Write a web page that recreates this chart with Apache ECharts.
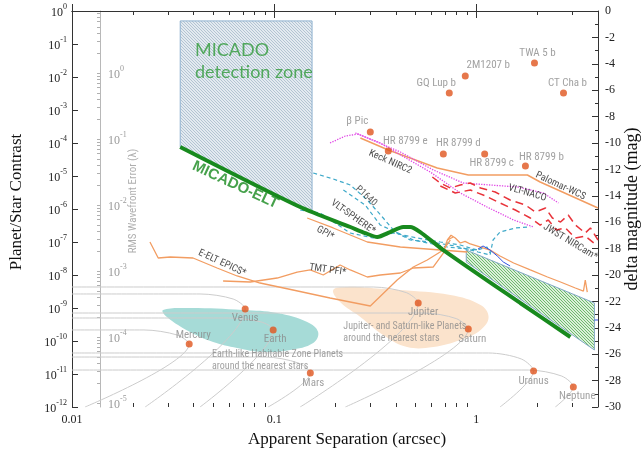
<!DOCTYPE html>
<html><head><meta charset="utf-8">
<script src="https://cdn.jsdelivr.net/npm/echarts@6/dist/echarts.min.js"></script>
<style>html,body{margin:0;padding:0;background:#fff}#c{width:643px;height:455px}</style>
</head><body><div id="c"></div>
<script>
// ---------------- data ----------------
const xTickLabels = [0.01, 0.1, 1];
const yTickLabels = [1e-12,1e-11,1e-10,1e-9,1e-8,1e-7,1e-6,1e-5,1e-4,1e-3,1e-2,1e-1,1];
const rmsTickLabels = [1e-5,1e-4,1e-3,1e-2,1e-1,1];
const magRange = [-30, 0];

const planetNames = ['TWA 5 b','2M1207 b','GQ Lup b','CT Cha b','β Pic','HR 8799 e','HR 8799 d','HR 8799 c','HR 8799 b','Mercury','Venus','Earth','Mars','Jupiter','Saturn','Uranus','Neptune'];
const planetSep = [1.94,0.882,0.735,2.70,0.299,0.367,0.687,1.10,1.75,0.038,0.0719,0.0989,0.151,0.516,0.913,1.92,3.02];
const planetContrast = [0.0266,0.0107,3.27e-3,3.27e-3,2.16e-4,5.72e-5,4.64e-5,4.64e-5,2.01e-5,8.11e-11,9.33e-10,2.16e-10,1.07e-11,1.42e-9,2.31e-10,1.23e-11,4.04e-12];

const orbitMercury = [[0.01,2.16e-10],[0.0227,2.16e-10],[0.0331,1.52e-10],[0.038,8.11e-11],[0.0116,1e-12]];
const orbitVenus   = [[0.01,2.66e-9],[0.043,2.66e-9],[0.0627,1.87e-9],[0.0719,9.33e-10],[0.023,1e-12]];
const orbitEarth   = [[0.01,4.98e-10],[0.0592,4.98e-10],[0.0862,3.77e-10],[0.0989,2.16e-10],[0.043,1e-12]];
const orbitMars    = [[0.01,3.27e-11],[0.0903,3.27e-11],[0.1315,2.16e-11],[0.151,1.07e-11],[0.0934,1e-12]];
const orbitJupiter = [[0.01,4.33e-9],[0.309,4.33e-9],[0.45,2.93e-9],[0.516,1.42e-9],[0.1345,1e-12]];
const orbitSaturn  = [[0.01,7.05e-10],[0.547,7.05e-10],[0.796,4.77e-10],[0.913,2.31e-10],[0.225,1e-12]];
const orbitUranus  = [[0.01,4.33e-11],[1.15,4.33e-11],[1.67,2.85e-11],[1.92,1.23e-11],[1.31,1e-12]];
const orbitNeptune = [[0.01,1.32e-11],[1.81,1.32e-11],[2.64,8.7e-12],[3.02,4.04e-12],[2.46,1e-12]];

const earthZone = [[0.0282,8.7e-10],[0.0384,1e-9],[0.0702,8.7e-10],[0.1035,7.05e-10],[0.1457,3.77e-10],[0.165,1.87e-10],[0.156,8.7e-11],[0.120,5.34e-11],[0.0882,4.64e-11],[0.0656,6.14e-11],[0.0499,9.33e-11],[0.0384,1.87e-10],[0.0295,5.34e-10]];
const jupiterZone = [[0.196,3.51e-9],[0.23,4.33e-9],[0.309,4.0e-9],[0.421,3.51e-9],[0.744,2.48e-9],[1.05,1.23e-9],[1.15,5.34e-10],[1.05,2.16e-10],[0.833,1.07e-10],[0.613,6.58e-11],[0.455,6.58e-11],[0.346,1.52e-10],[0.267,5.34e-10],[0.212,1.52e-9]];

const micadoZone = [[0.0343,0.5],[0.154,0.5],[0.154,8e-7],[0.0343,7.6e-5]];
const eltZone = [[0.892,5.7e-8],[3.84,1.42e-9],[3.84,5.34e-11],[0.892,2.48e-8]];

const micadoELT = [[0.0343,7.6e-5],[0.1345,1.15e-6],[0.238,2.85e-7],[0.282,1.87e-7],[0.324,1.42e-7],[0.375,2.0e-7],[0.435,2.85e-7],[0.471,2.85e-7],[0.528,2.0e-7],[0.687,5.7e-8],[1.65,1.42e-9],[2.92,1.32e-10]];

const palomarWCS = [[0.267,1.42e-4],[0.367,6.14e-5],[0.641,1.75e-5],[0.913,1.07e-5],[1.79,1.07e-5],[2.07,6.58e-6],[4.0,1.07e-6]];
const keckNIRC2 = [[0.189,1e-4],[0.225,1.63e-4],[0.26,1.87e-4],[0.306,1.23e-4],[0.421,5.34e-5],[0.613,1.52e-5],[0.862,6.14e-6],[1.17,5.34e-6],[1.60,4.64e-6],[2.15,3.05e-6],[2.55,1.52e-6]];
const vltNACO = [[0.252,2.01e-4],[0.335,1e-4],[0.406,4.98e-5],[0.592,1.32e-5],[0.833,3.05e-6],[1.13,1.15e-6],[1.53,4.64e-7],[1.92,2.85e-7]];
const jwstA = [[0.606,9.33e-6],[0.664,6.14e-6],[0.744,4.33e-6],[0.833,5.34e-6],[0.934,6.14e-6],[1.05,4.33e-6],[1.24,3.27e-6],[1.47,1.87e-6],[1.75,1.32e-6],[1.96,8.11e-7],[2.20,1.07e-6],[2.38,5.34e-7],[2.61,4.04e-7],[2.85,6.58e-7],[3.09,3.27e-7],[3.46,1.87e-7],[3.67,2.66e-7],[4.0,1.15e-7]];
const jwstB = [[0.664,4.98e-6],[0.787,3.05e-6],[0.934,3.77e-6],[1.11,2.48e-6],[1.31,1.52e-6],[1.56,9.33e-7],[1.85,5.34e-7],[2.07,3.27e-7],[2.27,4.64e-7],[2.49,2.31e-7],[2.76,2.66e-7],[3.09,1.32e-7],[3.46,1.52e-7],[3.97,7.57e-8]];
const p1640 = [[0.156,1.23e-5],[0.196,8.11e-6],[0.238,5.34e-6],[0.289,1.87e-6],[0.343,5.72e-7],[0.397,2.01e-7],[0.471,1.15e-7],[0.592,1e-7],[0.787,7.57e-8],[1.02,4.98e-8],[1.17,4.04e-8],[1.21,1.15e-7],[1.31,2.01e-7],[1.56,2.66e-7],[1.85,2.85e-7]];
const sphereA = [[0.1345,9.33e-7],[0.169,7.57e-7],[0.238,1.87e-7],[0.309,1.32e-7],[0.388,1.87e-7],[0.511,1.32e-7],[0.664,1e-7],[0.833,8.11e-8],[1.01,5.72e-8]];
const sphereB = [[0.22,3.77e-6],[0.282,1.32e-6],[0.335,3.27e-7],[0.488,1.15e-7],[0.719,7.05e-8],[1.01,5.72e-8],[1.13,7.05e-8],[1.17,4.64e-8]];
const gpi = [[0.1457,5.34e-7],[0.196,2.66e-7],[0.289,1e-7],[0.421,7.05e-8],[0.664,5.72e-8],[0.903,4.98e-8]];
const epics = [[0.0243,1e-7],[0.0267,3.27e-8],[0.0306,3.51e-8],[0.0397,3.27e-8],[0.0522,1.63e-8],[0.0656,9.33e-9],[0.0852,5.72e-9],[0.124,3.51e-9],[0.189,2.01e-9],[0.299,1.15e-9],[0.406,7.05e-9],[0.488,1.75e-8],[0.572,2.85e-8],[0.687,5.72e-8],[0.744,1.15e-7]];
const tmtPFI = [[0.0559,6.58e-9],[0.0761,6.14e-9],[0.1035,8.11e-9],[0.130,1.23e-8],[0.1508,1.42e-8],[0.175,1e-8],[0.212,2.01e-8],[0.238,1.42e-8],[0.289,8.7e-9],[0.335,1e-8],[0.421,1.15e-8],[0.488,1.63e-8],[0.613,1.75e-8],[0.687,4.64e-8],[0.719,1.15e-7],[0.769,1.42e-7]];
const eltNoisy = [[0.719,1.15e-7],[0.75,1.6e-7],[0.787,1.32e-7],[0.833,9.33e-8],[0.88,1.05e-7],[0.934,8.7e-8],[1.05,7.05e-8],[1.17,5.72e-8],[1.31,3.77e-8],[1.53,2.31e-8],[1.85,1.42e-8],[2.25,8.7e-9],[2.61,6.14e-9],[3.09,4.04e-9],[3.39,3.27e-9],[3.46,7.05e-9],[3.54,3.05e-9]];
const blueCurve = [[1.02,6.14e-8],[1.08,7.57e-8],[1.17,5.72e-8],[1.27,3.77e-8],[1.36,2.48e-8],[1.47,1.87e-8]];
const blueTick = [[3.84,4.33e-10],[4.0,4.33e-10]];

const annoText = ['MICADO\ndetection zone','MICADO-ELT','Keck NIRC2','VLT-NACO','Palomar-WCS','JWST NIRCam*','P1640','VLT-SPHERE*','GPI*','E-ELT EPICS*','TMT PFI*','Earth-like Habitable Zone Planets\naround the nearest stars','Jupiter- and Saturn-like Planets\naround the nearest stars','RMS Wavefront Error (λ)'];
const annoPos = [[0.0406,0.0295],[0.0643,5.34e-6],[0.375,2.66e-5],[1.79,3.05e-6],[2.61,4.98e-6],[2.92,1.0e-7],[0.285,2.48e-6],[0.246,5.72e-7],[0.179,1.87e-7],[0.0553,2.31e-8],[0.184,1.42e-8],[0.0493,2.48e-11],[0.220,1.87e-10],[0.02,1.75e-6]];
const annoRot = [0,-25,-24,-16,-25,-31,-42,-35,-30,-25,-8,0,0,90];

// ---------------- styling helpers ----------------
const SERIF = "'Liberation Serif','Times New Roman',serif";
const NARROW = "'Liberation Sans Narrow','Arial Narrow','Roboto Condensed',sans-serif";
const ORANGE = '#f29d62';

function hatch(bg, fg, size) {
  const c = document.createElement('canvas');
  c.width = size; c.height = size;
  const g = c.getContext('2d');
  g.fillStyle = bg; g.fillRect(0, 0, size, size);
  g.fillStyle = fg;
  for (let i = 0; i < size; i++) g.fillRect(i, i, 1, 1);
  return c;
}
const micadoFill = {image: hatch('#e3eaf0', '#b3c4d2', 3), repeat: 'repeat'};
const eltFill = {image: hatch('#dcefda', '#6dbb6d', 3), repeat: 'repeat'};

function poly(pts, fill, stroke, z, smooth) {
  return {type: 'custom', z, silent: true, data: [pts[0]],
    renderItem: (params, api) => ({type: 'polygon',
      shape: {points: pts.map(p => api.coord(p)), smooth: smooth || 0},
      style: {fill: fill, stroke: stroke || null, lineWidth: stroke ? 1 : 0}})};
}
function line(data, color, width, type, z, smooth) {
  return {type: 'line', data, symbol: 'none', silent: true, z, smooth: smooth || false,
    lineStyle: {color, width, type: type || 'solid'}};
}

const supLabel = v => '{b|10}{s|' + Math.round(Math.log10(v)) + '}';
function richFor(color) {
  return {b: {fontFamily: SERIF, fontSize: 12, color, lineHeight: 16, verticalAlign: 'bottom'},
          s: {fontFamily: SERIF, fontSize: 8, color, lineHeight: 6, verticalAlign: 'top'}};
}
const xMinor = [];
[0.01, 0.1, 1].forEach(d => { for (let k = 2; k <= 9; k++) if (k * d < 4) xMinor.push(+(k * d).toPrecision(3)); });
const rmsTicks = [];
[1e-5,1e-4,1e-3,1e-2,1e-1,1].forEach(d => { for (let k = 1; k <= 9; k++) if (k * d < 8.7) rmsTicks.push(+(k * d).toPrecision(3)); });

const AX = '#333';
const logX = {type: 'log', logBase: 10, min: 0.01, max: 4, splitLine: {show: false}};

const planetLabelOffset = [[3,-10],[23,-11],[-13,-10],[4,-10],[-13,-11],[17,-10],[15,-11],[7,9],[16,-9],[4,-9],[0,9],[2,9],[3,10],[5,9],[4,10],[0,10],[4,9]];

function annoStyle(i) {
  if (i === 0) return {color: '#2f9a3a', fontSize: 18, fontFamily: 'Lato, sans-serif', align: 'left', lineHeight: 22};
  if (i === 1) return {color: '#188a1e', fontSize: 15, fontWeight: 'bold', fontFamily: "'Liberation Sans', Arial, sans-serif"};
  if (i === 11 || i === 12) return {color: '#8a8a8a', fontSize: 10, fontFamily: NARROW, align: 'left', lineHeight: 12};
  if (i === 13) return {color: '#9a9a9a', fontSize: 11, fontFamily: NARROW};
  if (i === 6) return {color: '#333', fontSize: 10, fontFamily: NARROW};
  return {color: '#1a1a1a', fontSize: 10, fontFamily: NARROW};
}

const option = {
  animation: false,
  backgroundColor: '#fff',
  grid: {left: 72, right: 45, top: 11, bottom: 48, containLabel: false, outerBoundsMode: 'none'},
  xAxis: [
    Object.assign({}, logX, {position: 'bottom',
      axisLine: {show: true, lineStyle: {color: AX, width: 1}},
      axisTick: {inside: true, length: 7, customValues: xTickLabels, lineStyle: {color: AX}},
      axisLabel: {customValues: xTickLabels, formatter: v => String(v), margin: 7, fontFamily: SERIF, fontSize: 12, color: '#222'},
      name: 'Apparent Separation (arcsec)', nameLocation: 'middle', nameGap: 22,
      nameTextStyle: {fontFamily: SERIF, fontSize: 17, color: '#111', padding: [0, 0, 0, 24]}}),
    Object.assign({}, logX, {position: 'bottom', axisLine: {show: false},
      axisTick: {inside: true, length: 4, customValues: xMinor, lineStyle: {color: AX}}, axisLabel: {show: false}}),
    Object.assign({}, logX, {position: 'top', axisLine: {show: true, lineStyle: {color: AX, width: 1}},
      axisTick: {inside: true, length: 7, customValues: xTickLabels, lineStyle: {color: AX}}, axisLabel: {show: false}}),
    Object.assign({}, logX, {position: 'top', axisLine: {show: false},
      axisTick: {inside: true, length: 4, customValues: xMinor, lineStyle: {color: AX}}, axisLabel: {show: false}})
  ],
  yAxis: [
    {type: 'log', logBase: 10, min: 1e-12, max: 1, position: 'left', splitLine: {show: false},
      axisLine: {show: true, lineStyle: {color: AX, width: 1}},
      axisTick: {inside: true, length: 6, customValues: yTickLabels, lineStyle: {color: AX}},
      axisLabel: {customValues: yTickLabels, formatter: supLabel, rich: richFor('#222'), margin: 5},
      name: 'Planet/Star Contrast', nameLocation: 'middle', nameGap: 47,
      nameTextStyle: {fontFamily: SERIF, fontSize: 17, color: '#111', padding: [0, 0, 0, 14]}},
    {type: 'value', min: magRange[0], max: magRange[1], interval: 2, position: 'right', splitLine: {show: false},
      axisLine: {show: true, lineStyle: {color: AX, width: 1}},
      axisTick: {inside: true, length: 6, lineStyle: {color: AX}},
      minorTick: {show: true, splitNumber: 2, length: 3, lineStyle: {color: AX}},
      axisLabel: {formatter: v => String(v), margin: 7, fontFamily: SERIF, fontSize: 12, color: '#222'},
      name: 'delta magnitude (mag)', nameLocation: 'middle', nameGap: 25, nameMoveOverlap: false,
      nameTextStyle: {fontFamily: SERIF, fontSize: 18, color: '#111'}},
    {type: 'log', logBase: 10, min: 8.7e-6, max: 8.7, position: 'left', offset: -28, splitLine: {show: false},
      axisLine: {show: true, lineStyle: {color: '#b8b8b8', width: 1}},
      axisTick: {inside: false, length: 3, customValues: rmsTicks, lineStyle: {color: '#b0b0b0'}},
      axisLabel: {inside: true, customValues: rmsTickLabels, formatter: supLabel, rich: richFor('#9a9a9a'), margin: 8}}
  ],
  series: [
    poly(earthZone, '#a6dbd7', null, 1, 0.4),
    poly(jupiterZone, '#fbe3cc', null, 1, 0.4),
    line(orbitMercury, '#cccccc', 1, 'solid', 2, 0.3),
    line(orbitVenus, '#cccccc', 1, 'solid', 2, 0.3),
    line(orbitEarth, '#cccccc', 1, 'solid', 2, 0.3),
    line(orbitMars, '#cccccc', 1, 'solid', 2, 0.3),
    line(orbitJupiter, '#cccccc', 1, 'solid', 2, 0.3),
    line(orbitSaturn, '#cccccc', 1, 'solid', 2, 0.3),
    line(orbitUranus, '#cccccc', 1, 'solid', 2, 0.3),
    line(orbitNeptune, '#cccccc', 1, 'solid', 2, 0.3),
    poly(micadoZone, micadoFill, '#8fb2cf', 3),
    poly(eltZone, eltFill, '#84a9c6', 3),
    line(palomarWCS, ORANGE, 1.5, 'solid', 4),
    line(keckNIRC2, '#e046e6', 1.3, 'dotted', 4),
    line(vltNACO, '#e046e6', 1.3, 'dotted', 4),
    line(jwstA, '#e8333a', 1.5, [8, 5], 4),
    line(jwstB, '#e8333a', 1.5, [8, 5], 4),
    line(p1640, '#3fa9c9', 1.2, [4, 3], 4),
    line(sphereA, '#3fa9c9', 1.2, [4, 3], 4),
    line(sphereB, '#3fa9c9', 1.2, [4, 3], 4),
    line(gpi, ORANGE, 1.3, 'solid', 4),
    line(epics, ORANGE, 1.3, 'solid', 4),
    line(tmtPFI, ORANGE, 1.3, 'solid', 4),
    line(eltNoisy, ORANGE, 1.3, 'solid', 4),
    line(blueCurve, '#3050e0', 1, 'solid', 4),
    line(blueTick, '#3050e0', 1, 'solid', 4),
    line(micadoELT, '#188a1e', 4, 'solid', 5, 0.25),
    {type: 'scatter', z: 6, silent: true, symbolSize: 7, itemStyle: {color: '#e0551e'},
      data: planetNames.map((n, i) => ({name: n, value: [planetSep[i], planetContrast[i]],
        label: {offset: planetLabelOffset[i]}})),
      label: {show: true, position: 'inside', formatter: '{b}', color: '#8a8a8a', fontSize: 11, fontFamily: NARROW}},
    {type: 'scatter', z: 7, silent: true, symbolSize: 0,
      data: annoText.map((t, i) => ({value: annoPos[i],
        label: Object.assign({show: true, position: 'inside', formatter: t, rotate: annoRot[i]}, annoStyle(i))}))}
  ]
};
const chart = echarts.init(document.getElementById('c'), null, {renderer: 'canvas'});
chart.setOption(option);
</script>
</body></html>
